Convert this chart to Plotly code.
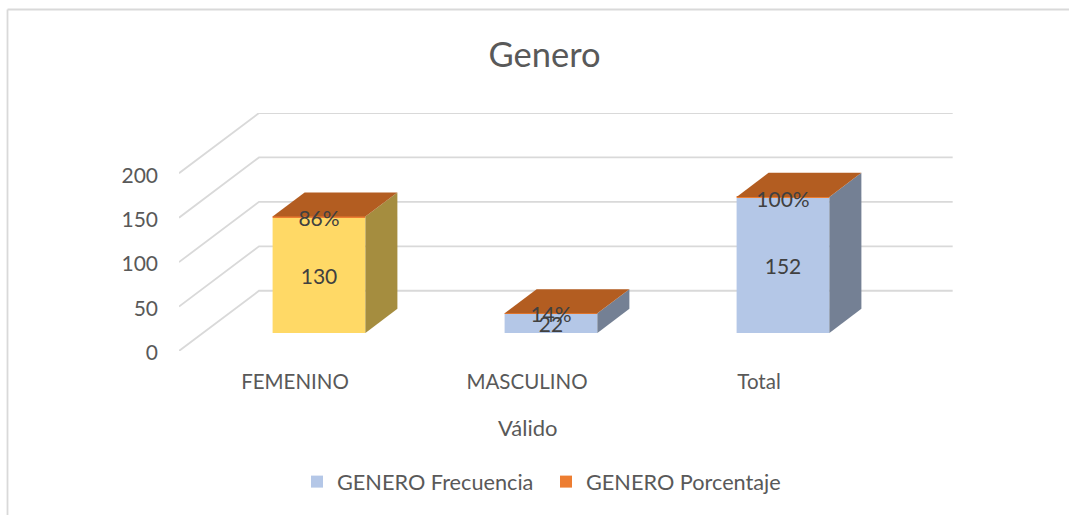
import plotly.graph_objects as go

categorias = ["FEMENINO", "MASCULINO", "Total"]
frecuencia = [130, 22, 152]
porcentaje = [86, 14, 100]
ticks_y = [0, 50, 100, 150, 200]

# fake 3d: how far the back wall sits from the front plane, in axis units
DX = 80 / 232
DY = 60 / 0.885
BAR_W = 0.4
BAR_START = 0.3  # fraction of the depth where the bar front sits
BAR_DEPTH = 0.4
LABEL_DROP = 4.3  # labels sit a little under the centre of their segment

GRID = "#d9d9d9"
TXT = "#595959"
LBL = "#404040"
AZUL = "#b4c7e7"
AZUL_LADO = "#748094"
AMARILLO = "#ffd966"
AMARILLO_LADO = "#a58d3f"
NARANJA = "#ed7d31"
NARANJA_TOPE = "#b35d21"
FUENTE = "Lato"

fig = go.Figure()

# gridlines on the wall and the floor side, on the lower axes so bars cover them
for v in ticks_y:
    fig.add_trace(go.Scatter(
        x=[-0.5, -0.5 + DX, 2.49 + DX],
        y=[v, v + DY, v + DY],
        mode="lines", line=dict(color=GRID, width=1.8),
        showlegend=False, hoverinfo="skip"))

x_frente = [i + BAR_START * DX for i in range(len(categorias))]
base = BAR_START * DY
altura_pct = [p / 100 for p in porcentaje]

# front faces, first category is recoloured in the original
fig.add_trace(go.Bar(
    x=x_frente[1:], y=frecuencia[1:], base=base, width=BAR_W,
    marker=dict(color=AZUL, line_width=0), name="GENERO Frecuencia",
    xaxis="x2", yaxis="y2"))
fig.add_trace(go.Bar(
    x=x_frente[:1], y=frecuencia[:1], base=base, width=BAR_W,
    marker=dict(color=AMARILLO, line_width=0), showlegend=False,
    xaxis="x2", yaxis="y2"))
fig.add_trace(go.Bar(
    x=x_frente, y=altura_pct, base=[base + f for f in frecuencia], width=BAR_W,
    marker=dict(color=NARANJA, line_width=0), name="GENERO Porcentaje",
    xaxis="x2", yaxis="y2"))

# side and top faces
for i, f in enumerate(frecuencia):
    der = x_frente[i] + BAR_W / 2
    izq = x_frente[i] - BAR_W / 2
    tope = base + f + altura_pct[i]
    ddx = BAR_DEPTH * DX
    ddy = BAR_DEPTH * DY
    fig.add_trace(go.Scatter(
        x=[der, der + ddx, der + ddx, der, der],
        y=[base, base + ddy, tope + ddy, tope, base],
        mode="lines", fill="toself", line_width=0,
        fillcolor=AMARILLO_LADO if i == 0 else AZUL_LADO,
        showlegend=False, hoverinfo="skip", xaxis="x2", yaxis="y2"))
    fig.add_trace(go.Scatter(
        x=[izq, izq + ddx, der + ddx, der, izq],
        y=[tope, tope + ddy, tope + ddy, tope, tope],
        mode="lines", fill="toself", line_width=0,
        fillcolor=NARANJA_TOPE,
        showlegend=False, hoverinfo="skip", xaxis="x2", yaxis="y2"))

# data labels
fig.add_trace(go.Scatter(
    x=x_frente, y=[base + f / 2 - LABEL_DROP for f in frecuencia],
    text=[str(f) for f in frecuencia], mode="text",
    textfont=dict(family=FUENTE, size=21, color=LBL),
    showlegend=False, hoverinfo="skip", xaxis="x2", yaxis="y2"))
fig.add_trace(go.Scatter(
    x=x_frente, y=[base + f - LABEL_DROP for f in frecuencia],
    text=[f"{p}%" for p in porcentaje], mode="text",
    textfont=dict(family=FUENTE, size=21, color=LBL),
    showlegend=False, hoverinfo="skip", xaxis="x2", yaxis="y2"))

W, H = 1069, 515
PW, PH = 776, 238  # plot area in px: floor corner to back wall corner
fig.update_layout(
    width=W, height=H,
    margin=dict(l=179, r=W - 179 - PW, t=351 - PH, b=H - 351, autoexpand=False),
    paper_bgcolor="white", plot_bgcolor="white",
    barmode="overlay",
    font=dict(family=FUENTE, color=TXT, size=21),
    title=dict(text="Genero", x=544.5 / W, xanchor="center", xref="container",
               y=1 - 55 / H, yanchor="middle", yref="container",
               font=dict(size=34.5, color=TXT, family=FUENTE)),
    xaxis=dict(range=[-0.5, 2.5 + DX], tickvals=[0, 1, 2], ticktext=categorias,
               showgrid=False, zeroline=False, showline=False, ticks="",
               ticklabelstandoff=16, tickfont=dict(size=20.5, color=TXT)),
    yaxis=dict(range=[0, 200 + DY], tickvals=ticks_y, showgrid=False, zeroline=False,
               showline=False, ticks="", ticklabelstandoff=20, ticklabelshift=2,
               tickfont=dict(size=21, color=TXT)),
    xaxis2=dict(overlaying="x", matches="x", visible=False),
    yaxis2=dict(overlaying="y", matches="y", visible=False),
    legend=dict(orientation="h", x=546 / W, xanchor="center", xref="container",
                y=33 / H, yanchor="middle", yref="container",
                entrywidth=204, entrywidthmode="pixels",
                font=dict(size=21.7, color=TXT, family=FUENTE)),
    showlegend=True,
    annotations=[dict(text="Válido", x=1, xref="x", xanchor="center",
                      y=(351 - 427.5) / PH, yref="paper", yanchor="middle",
                      showarrow=False, font=dict(size=22, color=TXT))],
    shapes=[
        dict(type="line", xref="paper", yref="paper",
             x0=(7.5 - 179) / PW, x1=(W - 179) / PW,
             y0=(351 - 9.5) / PH, y1=(351 - 9.5) / PH,
             line=dict(color=GRID, width=1.8)),
        dict(type="line", xref="paper", yref="paper",
             x0=(7.5 - 179) / PW, x1=(7.5 - 179) / PW,
             y0=(351 - 9.5) / PH, y1=(351 - H) / PH,
             line=dict(color=GRID, width=1.8)),
    ],
)

# default page margin would push the whole figure 8px off
fig.write_html("out.html", post_script="document.body.style.margin='0';",
               config=dict(displayModeBar=False))
